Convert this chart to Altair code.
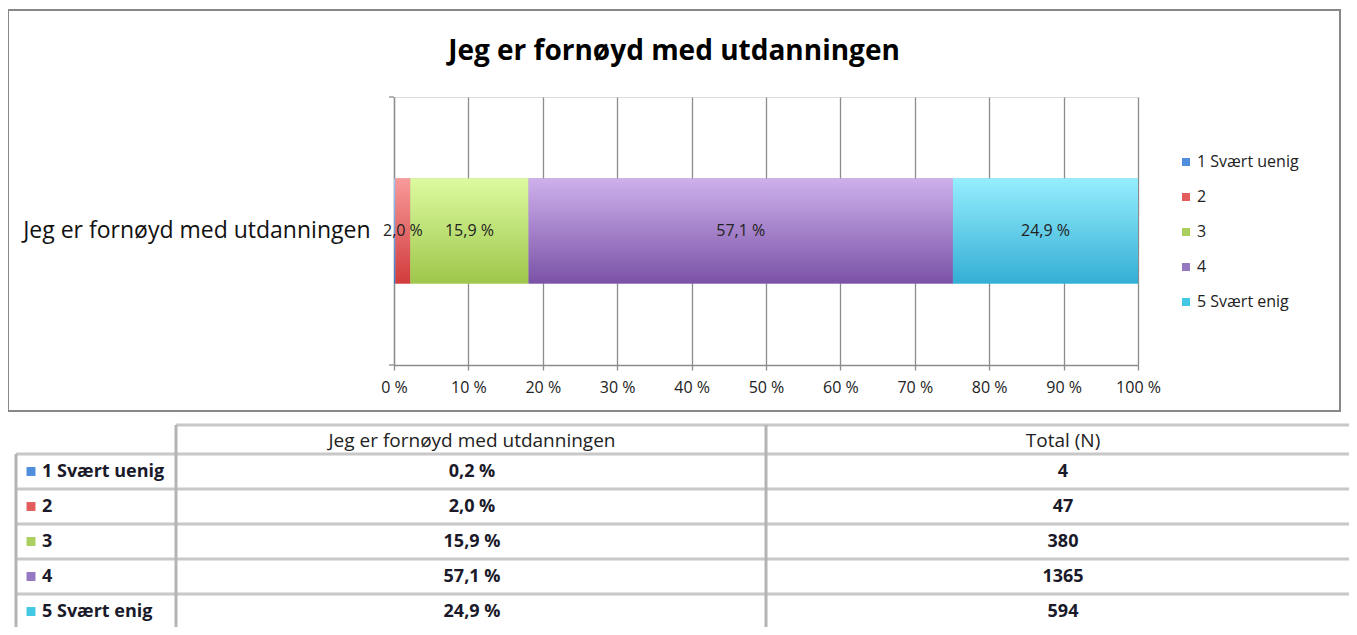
import altair as alt
import pandas as pd

# ---------------- data ----------------
question = "Jeg er fornøyd med utdanningen"
categories = ["1 Svært uenig", "2", "3", "4", "5 Svært enig"]
percents = [0.2, 2.0, 15.9, 57.1, 24.9]
counts = [4, 47, 380, 1365, 594]
x_ticks = [0, 10, 20, 30, 40, 50, 60, 70, 80, 90, 100]
table_headers = [question, "Total (N)"]

# ---------------- styles ----------------
legend_colors = ["#4F8EDC", "#E35D5D", "#AACF5F", "#9577C2", "#43C8E4"]
gradient_colors = [
    ("#A3C7F2", "#3C7BC8"),
    ("#F89A9A", "#D13B3B"),
    ("#DDFAA0", "#9EC64B"),
    ("#CEB0EC", "#7A52A6"),
    ("#95EEFD", "#34AED5"),
]
FONT = "Open Sans"
AXIS_GRAY = "#8C8C8C"
TABLE_H = "#C8C8C8"
TABLE_V = "#B4B4B4"

df = pd.DataFrame({
    "q": [question] * len(categories),
    "cat": categories,
    "pct": percents,
    "n": counts,
    "order": list(range(len(categories))),
})

base = (
    alt.Chart(df)
    .transform_joinaggregate(total="sum(pct)")
    .transform_window(cum="sum(pct)", sort=[alt.SortField("order")], frame=[None, 0])
    .transform_calculate(
        start="(datum.cum - datum.pct) / datum.total",
        end="datum.cum / datum.total",
        label="replace(format(datum.pct, '.1f'), '.', ',') + ' %'",
    )
    .transform_calculate(mid="(datum.start + datum.end) / 2")
)

x_enc = alt.X(
    "start:Q",
    scale=alt.Scale(domain=[0, 1], nice=False),
    axis=alt.Axis(
        values=[t / 100 for t in x_ticks],
        labelExpr="round(datum.value * 100) + ' %'",
        labelFlush=False, labelOverlap=False,
        grid=True, gridColor=AXIS_GRAY, gridWidth=1.3,
        domainColor=AXIS_GRAY, domainWidth=1.3,
        tickColor=AXIS_GRAY, tickWidth=1.3, tickSize=5,
        labelFont=FONT, labelFontSize=16, labelColor="#222222",
        labelPadding=9, title=None,
    ),
)
y_scale = alt.Scale(paddingInner=0.437, paddingOuter=0.437)
y_enc = alt.Y(
    "q:N", scale=y_scale,
    axis=alt.Axis(
        title=None, ticks=False, labelFont=FONT, labelFontSize=23,
        labelColor="#111111", labelPadding=24, labelLimit=600,
        domainColor=AXIS_GRAY, domainWidth=1.3,
    ),
)
legend = alt.Legend(
    title=None, orient="none", legendX=784, legendY=57, padding=0,
    symbolType="square", symbolSize=64, symbolStrokeWidth=0,
    labelFont=FONT, labelFontSize=16, labelColor="#222222",
    labelOffset=3, rowPadding=19,
)
color_enc = alt.Color(
    "cat:N", scale=alt.Scale(domain=categories, range=legend_colors),
    legend=legend, sort=categories,
)

bars = base.mark_bar(strokeWidth=0).encode(x=x_enc, x2="end:Q", y=y_enc, color=color_enc)

grad_layers = []
for c, (top, bot) in zip(categories, gradient_colors):
    g = alt.LinearGradient(
        gradient="linear", x1=0, x2=0, y1=0, y2=1,
        stops=[alt.GradientStop(color=top, offset=0), alt.GradientStop(color=bot, offset=1)],
    )
    grad_layers.append(
        base.transform_filter(alt.datum.cat == c)
        .mark_bar(color=g, strokeWidth=0)
        .encode(x="start:Q", x2="end:Q", y=alt.Y("q:N", scale=y_scale))
    )

bar_labels = (
    base.transform_filter("datum.pct >= 1")
    .mark_text(font=FONT, fontSize=16, color="#222222")
    .encode(x="mid:Q", y=alt.Y("q:N", scale=y_scale), text="label:N")
)

one = alt.Data(values=[{"k": 1}])
frame_box = alt.Chart(one).mark_rect(fillOpacity=0, stroke="#888888", strokeWidth=2).encode(
    x=alt.value(-386), x2=alt.value(946), y=alt.value(-87), y2=alt.value(314)
)
y_tick_top = alt.Chart(one).mark_rule(color=AXIS_GRAY, strokeWidth=1.3).encode(
    x=alt.value(-5), x2=alt.value(0), y=alt.value(0)
)
y_tick_bot = alt.Chart(one).mark_rule(color=AXIS_GRAY, strokeWidth=1.3).encode(
    x=alt.value(-5), x2=alt.value(0), y=alt.value(268)
)
title_text = alt.Chart(alt.Data(values=[{"t": question}])).mark_text(
    font=FONT, fontSize=28, fontWeight="bold", color="#000000",
    align="center", baseline="middle",
).encode(x=alt.value(280), y=alt.value(-45), text="t:N")

bar_group = alt.layer(frame_box, bars, *grad_layers, bar_labels, y_tick_top, y_tick_bot, title_text)

# ---------------- table ----------------
t_scale = alt.Scale(domain=categories, range=[357, 532], paddingInner=0, paddingOuter=0)
tbase = alt.Chart(df).transform_calculate(
    label="replace(format(datum.pct, '.1f'), '.', ',') + ' %'"
)
row_lines = tbase.mark_rule(color=TABLE_H, strokeWidth=3).encode(
    y=alt.Y("cat:N", scale=t_scale, bandPosition=0, axis=None),
    x=alt.value(-378), x2=alt.value(965),
)
head_top = alt.Chart(one).mark_rule(color=TABLE_H, strokeWidth=3).encode(
    x=alt.value(-218), x2=alt.value(965), y=alt.value(328)
)
vlines = [
    alt.Chart(one).mark_rule(color=TABLE_V, strokeWidth=3).encode(
        x=alt.value(xv), y=alt.value(y0), y2=alt.value(560)
    )
    for xv, y0 in [(-378, 357), (-218, 328), (372, 328)]
]
swatches = tbase.mark_square(size=80, opacity=1).encode(
    x=alt.value(-363), y=alt.Y("cat:N", scale=t_scale, axis=None), color=color_enc
)
row_text = tbase.mark_text(align="left", font=FONT, fontSize=18, fontWeight="bold",
                           color="#1A1A2A").encode(
    x=alt.value(-352), y=alt.Y("cat:N", scale=t_scale, axis=None), text="cat:N"
)
val_text = tbase.mark_text(align="center", font=FONT, fontSize=18, fontWeight="bold",
                           color="#1A1A2A").encode(
    x=alt.value(78), y=alt.Y("cat:N", scale=t_scale, axis=None), text="label:N"
)
n_text = tbase.mark_text(align="center", font=FONT, fontSize=18, fontWeight="bold",
                         color="#1A1A2A").encode(
    x=alt.value(669), y=alt.Y("cat:N", scale=t_scale, axis=None), text="n:Q"
)
hdr = [
    alt.Chart(alt.Data(values=[{"h": h}])).mark_text(
        align="center", font=FONT, fontSize=19, color="#222222"
    ).encode(x=alt.value(xv), y=alt.value(344), text="h:N")
    for h, xv in zip(table_headers, [78, 669])
]

table_group = alt.layer(row_lines, head_top, *vlines, swatches, row_text, val_text, n_text, *hdr)

chart = (
    alt.layer(bar_group, table_group)
    .resolve_scale(y="independent")
    .properties(
        width=744, height=268,
        autosize=alt.AutoSizeParams(type="none"),
        padding={"left": 386, "top": 89, "right": 211, "bottom": 262},
    )
    .configure_view(strokeWidth=0)
    .configure(background="#ffffff")
)

chart.save("out.html", embed_options={"renderer": "svg", "actions": False})
